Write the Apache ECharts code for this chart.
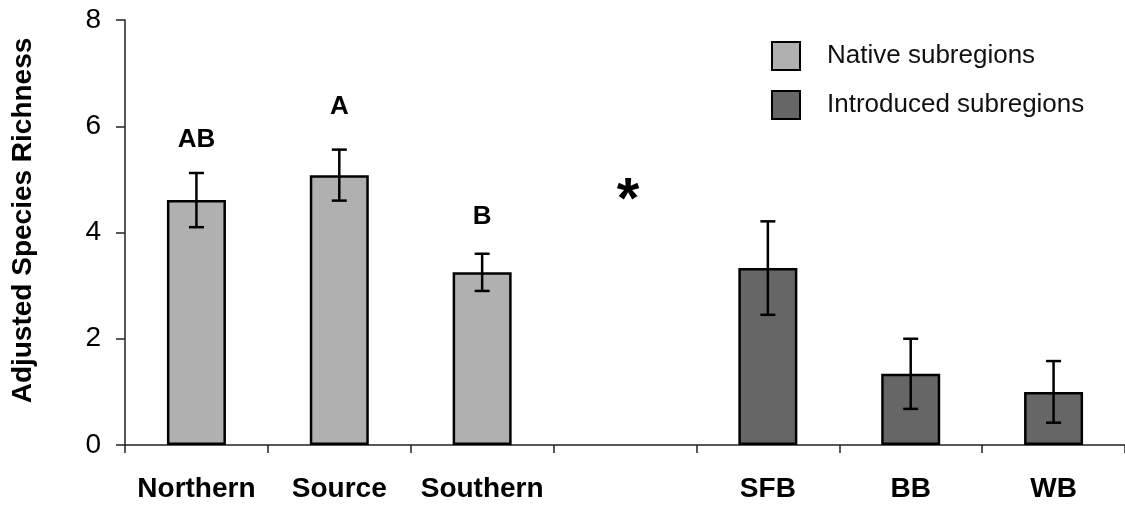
<!DOCTYPE html>
<html>
<head>
<meta charset="utf-8">
<script src="https://cdn.jsdelivr.net/npm/echarts@6/dist/echarts.min.js"></script>
<style>
html,body{margin:0;padding:0;background:#fff;}
#chart{width:1125px;height:506px;}
</style>
</head>
<body>
<div id="chart"></div>
<script>
var categories = ['Northern', 'Source', 'Southern', '', 'SFB', 'BB', 'WB'];
var nativeValues = [4.61, 5.08, 3.25, null, null, null, null];
var introducedValues = [null, null, null, null, 3.33, 1.34, 1.0];
var errorValues = [0.51, 0.48, 0.35, null, 0.88, 0.66, 0.58];
var letters = ['AB', 'A', 'B', '*', '', '', ''];
var letterHeights = [5.74, 6.36, 4.29, 4.76, null, null, null];
var yTicks = [0, 2, 4, 6, 8];

var FONT = 'Liberation Sans, Arial, sans-serif';

var errData = [];
var letterData = [];
for (var i = 0; i < categories.length; i++) {
  var v = nativeValues[i] != null ? nativeValues[i] : introducedValues[i];
  if (v != null && errorValues[i] != null) errData.push([i, v, errorValues[i]]);
  if (letters[i]) letterData.push([i, letterHeights[i], letters[i]]);
}

var chart = echarts.init(document.getElementById('chart'));
chart.setOption({
  animation: false,
  backgroundColor: '#ffffff',
  grid: { left: 125, right: 0, top: 20, bottom: 61 },
  legend: {
    orient: 'vertical',
    left: 766, top: 36,
    itemWidth: 28, itemHeight: 28, itemGap: 19,
    data: ['Native subregions', 'Introduced subregions'],
    textStyle: { fontFamily: FONT, fontSize: 26, color: '#111', padding: [0, 0, 0, 22] },
    icon: 'rect'
  },
  xAxis: {
    type: 'category',
    data: categories,
    boundaryGap: true,
    axisLine: { lineStyle: { color: '#222', width: 1.5 } },
    axisTick: { show: true, length: 8, lineStyle: { color: '#222', width: 1.5 } },
    axisLabel: { fontFamily: FONT, fontSize: 28, fontWeight: 'bold', color: '#000', margin: 30, interval: 0 }
  },
  yAxis: {
    type: 'value',
    min: 0, max: 8, interval: 2,
    name: 'Adjusted Species Richness',
    nameLocation: 'middle',
    nameGap: 88,
    nameTextStyle: { fontFamily: FONT, fontSize: 28, fontWeight: 'bold', color: '#000', padding: [0, 0, 0, 24] },
    axisLine: { show: true, lineStyle: { color: '#222', width: 1.5 } },
    axisTick: { show: true, length: 9, lineStyle: { color: '#222', width: 1.5 } },
    axisLabel: { fontFamily: FONT, fontSize: 28, color: '#000', margin: 24,
      formatter: function (v) { return yTicks.indexOf(v) >= 0 ? String(v) : ''; } },
    splitLine: { show: false }
  },
  series: [
    {
      name: 'Native subregions',
      type: 'bar',
      data: nativeValues.map(function (v) { return v == null ? '-' : v; }),
      barWidth: 59,
      barGap: '-100%',
      itemStyle: { color: '#b0b0b0', borderColor: '#000', borderWidth: 2.5 }
    },
    {
      name: 'Introduced subregions',
      type: 'bar',
      data: introducedValues.map(function (v) { return v == null ? '-' : v; }),
      barWidth: 59,
      barGap: '-100%',
      itemStyle: { color: '#666666', borderColor: '#000', borderWidth: 2.5 }
    },
    {
      type: 'custom',
      name: 'errors',
      data: errData,
      z: 10,
      renderItem: function (params, api) {
        var x = api.value(0), v = api.value(1), e = api.value(2);
        var top = api.coord([x, v + e]);
        var bot = api.coord([x, v - e]);
        var hw = 7.5;
        var style = { stroke: '#000', lineWidth: 2.5 };
        return {
          type: 'group',
          children: [
            { type: 'line', shape: { x1: top[0], y1: top[1], x2: bot[0], y2: bot[1] }, style: style },
            { type: 'line', shape: { x1: top[0] - hw, y1: top[1], x2: top[0] + hw, y2: top[1] }, style: style },
            { type: 'line', shape: { x1: bot[0] - hw, y1: bot[1], x2: bot[0] + hw, y2: bot[1] }, style: style }
          ]
        };
      }
    },
    {
      type: 'custom',
      name: 'letters',
      data: letterData,
      z: 11,
      renderItem: function (params, api) {
        var p = api.coord([api.value(0), api.value(1)]);
        var txt = letterData[params.dataIndex][2];
        var isStar = txt === '*';
        return {
          type: 'text',
          x: p[0] + (isStar ? 3 : 0),
          y: p[1] + (isStar ? 10 : 0),
          style: {
            text: txt,
            fontFamily: FONT,
            fontSize: isStar ? 58 : 26,
            fontWeight: 'bold',
            fill: '#000',
            align: 'center',
            verticalAlign: 'middle'
          }
        };
      }
    }
  ]
});
</script>
</body>
</html>
